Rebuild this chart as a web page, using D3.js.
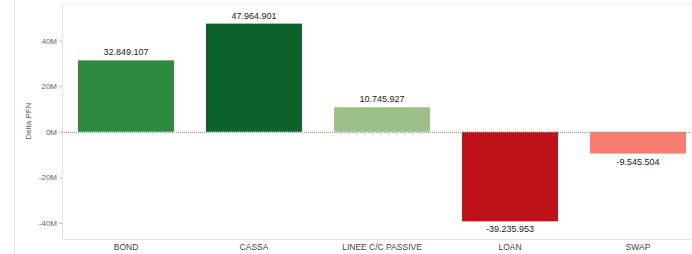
<!DOCTYPE html>
<html>
<head>
<meta charset="utf-8">
<script src="https://cdn.jsdelivr.net/npm/d3@7"></script>
<style>
	body { margin: 0; background: #fff; }
	svg { display: block; font-family: "Liberation Sans", Arial, sans-serif; }
</style>
</head>
<body>
<svg id="svg1"></svg>
<script>
// data (bar heights, labels as printed)
categories = ["BOND", "CASSA", "LINEE C/C PASSIVE", "LOAN", "SWAP"];
values = [31300000, 47400000, 10745927, -39235953, -9545504];
value_labels = ["32.849.107", "47.964.901", "10.745.927", "-39.235.953", "-9.545.504"];
bar_colors = ["#2e8a3e", "#0c6329", "#9cc087", "#bd1219", "#f87c70"];
y_ticks = [-40000000, -20000000, 0, 20000000, 40000000];
y_tick_labels = ["-40M", "-20M", "0M", "20M", "40M"];

settings = {
	width: 692,
	height: 254,
	left: 62,
	top: 4,
	bottom: 239,
	plotWidth: 640
}

function draw_chart() {
	svg = d3.select("#svg1")
		.attr("width", settings.width)
		.attr("height", settings.height)

	var x = d3.scaleBand().domain(categories).range([settings.left, settings.left + settings.plotWidth]).paddingInner(0.25).paddingOuter(0.125);
	// 20M = ~45.5px, 0 at y=131
	var y = d3.scaleLinear().domain([-47000000, 56000000]).range([settings.bottom, settings.top]);

	// outer left line
	svg.append("line")
		.attr("x1", 14.5).attr("x2", 14.5).attr("y1", 0).attr("y2", settings.height)
		.attr("stroke", "#e4e4e4")

	// plot frame
	svg.append("line")
		.attr("x1", settings.left + 0.5).attr("x2", settings.left + 0.5)
		.attr("y1", settings.top).attr("y2", settings.bottom)
		.attr("stroke", "#e2e2e2")
	svg.append("line")
		.attr("x1", settings.left).attr("x2", settings.width)
		.attr("y1", settings.top + 0.5).attr("y2", settings.top + 0.5)
		.attr("stroke", "#ececec")
	svg.append("line")
		.attr("x1", settings.left).attr("x2", settings.width)
		.attr("y1", settings.bottom + 0.5).attr("y2", settings.bottom + 0.5)
		.attr("stroke", "#e2e2e2")

	// bars
	svg.append("g")
		.selectAll("rect")
		.data(values)
		.enter().append("rect")
			.attr("x", (d, i) => x(categories[i]))
			.attr("y", d => y(Math.max(0, d)))
			.attr("width", x.bandwidth())
			.attr("height", d => Math.abs(y(d) - y(0)))
			.attr("fill", (d, i) => bar_colors[i])

	// zero line
	svg.append("line")
		.attr("x1", settings.left).attr("x2", settings.width)
		.attr("y1", Math.round(y(0)) + 0.5).attr("y2", Math.round(y(0)) + 0.5)
		.attr("stroke", "#9a9a9a")
		.attr("stroke-dasharray", "1,1")

	// value labels
	svg.append("g")
		.selectAll("text")
		.data(values)
		.enter().append("text")
			.attr("x", (d, i) => x(categories[i]) + x.bandwidth() / 2)
			.attr("y", d => d >= 0 ? y(d) - 5 : y(d) + 11)
			.attr("text-anchor", "middle")
			.attr("font-size", "9px")
			.attr("fill", "#222")
			.text((d, i) => value_labels[i])

	// y axis
	var yAxis = d3.axisLeft(y).tickValues(y_ticks).tickFormat((d, i) => y_tick_labels[i]).tickSize(3).tickPadding(2);
	var gy = svg.append("g")
		.attr("transform", "translate(" + settings.left + ",0)")
		.call(yAxis)
	gy.select(".domain").remove()
	gy.selectAll("line").attr("stroke", "#bbb")
	gy.selectAll("text").attr("fill", "#666").attr("font-size", "8px").attr("font-family", "Liberation Sans, Arial, sans-serif")

	// x axis labels
	var xAxis = d3.axisBottom(x).tickSize(0).tickPadding(5);
	var gx = svg.append("g")
		.attr("transform", "translate(0," + settings.bottom + ")")
		.call(xAxis)
	gx.select(".domain").remove()
	gx.selectAll("text").attr("fill", "#444").attr("font-size", "8.5px").attr("font-family", "Liberation Sans, Arial, sans-serif")

	// y axis title
	svg.append("text")
		.attr("transform", "translate(31,121) rotate(-90)")
		.attr("text-anchor", "middle")
		.attr("font-size", "8px")
		.attr("fill", "#555")
		.text("Delta PFN")
}

draw_chart();
</script>
</body>
</html>
